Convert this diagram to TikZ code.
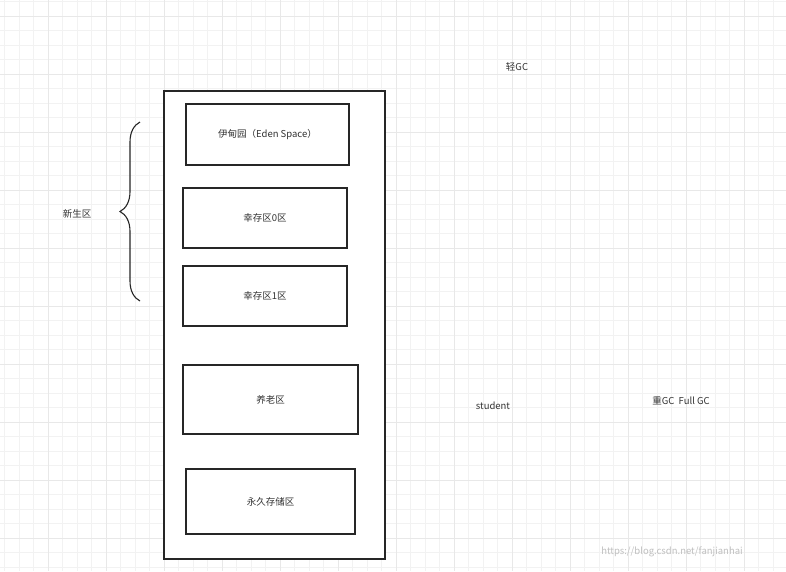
\documentclass[tikz,border=0pt]{standalone}
\usepackage{fontspec}
\setmainfont{Noto Sans CJK SC}
\usetikzlibrary{decorations.pathreplacing}
\begin{document}
\begin{tikzpicture}[x=1pt,y=-1pt,
  box/.style={draw=black!85,line width=1.1pt},
  lbl/.style={font=\fontsize{9.5}{11}\selectfont,text=black!80,inner sep=0pt}]
\useasboundingbox (0,0) rectangle (786,571);
\fill[white] (0,0) rectangle (786,571);
\foreach \i in {0,...,54} {\draw[black!5,line width=0.5pt] ({4.5+14.5*\i},0) -- ({4.5+14.5*\i},571);}
\foreach \i in {0,...,39} {\draw[black!5,line width=0.5pt] (0,{1.5+14.5*\i}) -- (786,{1.5+14.5*\i});}
\foreach \i in {0,...,13} {\draw[black!9,line width=0.6pt] ({48+58*(\i-1)},0) -- ({48+58*(\i-1)},571);}
\foreach \i in {0,...,10} {\draw[black!9,line width=0.6pt] (0,{16+58*\i}) -- (786,{16+58*\i});}
\draw[box,fill=white] (164,91) rectangle (385,559);
\node[box,fill=white,minimum width=163pt,minimum height=61pt] (eden) at (267.5,134.5) {};
\node[lbl] at (eden) {伊甸园（Eden Space）};
\node[box,fill=white,minimum width=164pt,minimum height=60pt] (s0) at (265,218) {};
\node[lbl] at (s0) {幸存区0区};
\node[box,fill=white,minimum width=164pt,minimum height=60pt] (s1) at (265,296) {};
\node[lbl] at (s1) {幸存区1区};
\node[box,fill=white,minimum width=175pt,minimum height=69pt] (old) at (270.5,399.5) {};
\node[lbl] at (old) {养老区};
\node[box,fill=white,minimum width=169pt,minimum height=65pt] (perm) at (270.5,501.5) {};
\node[lbl] at (perm) {永久存储区};
\coordinate (bb) at (140,301);
\coordinate (bt) at (140,122);
\draw[black!85,line width=1.1pt,decorate,decoration={brace,amplitude=20pt}] (bb) -- (bt);
\node[lbl] (xs) at (77,214) {新生区};
\node[lbl] (q) at (517,67) {轻GC};
\node[lbl] (st) at (493,406) {student};
\node[lbl] (z) at (681,401) {重GC\ \ Full GC};
\node[lbl,text=black!25] (wm) at (672,552) {https://blog.csdn.net/fanjianhai};
\end{tikzpicture}
\end{document}
